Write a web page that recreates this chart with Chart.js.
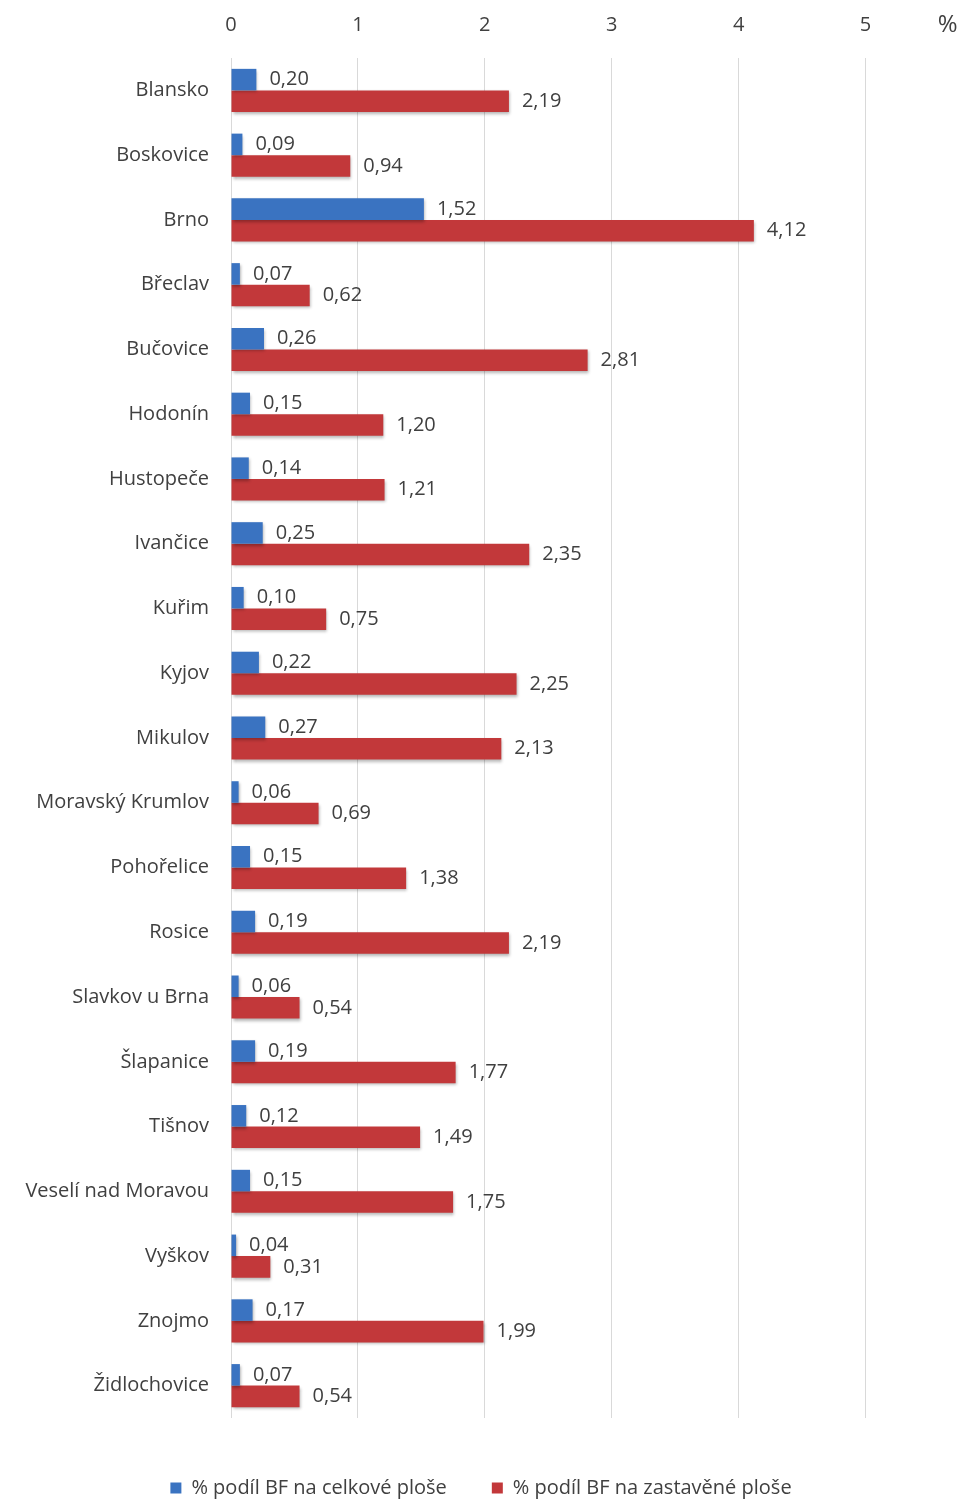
<!DOCTYPE html>
<html lang="cs">
<head>
<meta charset="utf-8">
<title>Podíl BF na ploše obcí</title>
<script src="https://cdn.jsdelivr.net/npm/chart.js@4/dist/chart.umd.min.js"></script>
<style>
  html, body { margin: 0; padding: 0; background: #ffffff; }
  #wrap { width: 962px; height: 1501px; }
</style>
</head>
<body>
<div id="wrap"><canvas id="chart" width="962" height="1501"></canvas></div>
<script>
// Obce s rozšířenou působností
const categories = [
  'Blansko', 'Boskovice', 'Brno', 'Břeclav', 'Bučovice', 'Hodonín', 'Hustopeče',
  'Ivančice', 'Kuřim', 'Kyjov', 'Mikulov', 'Moravský Krumlov', 'Pohořelice',
  'Rosice', 'Slavkov u Brna', 'Šlapanice', 'Tišnov', 'Veselí nad Moravou',
  'Vyškov', 'Znojmo', 'Židlochovice'
];

// % podíl BF na celkové ploše
const shareTotal = [
  0.20, 0.09, 1.52, 0.07, 0.26, 0.15, 0.14, 0.25, 0.10, 0.22, 0.27,
  0.06, 0.15, 0.19, 0.06, 0.19, 0.12, 0.15, 0.04, 0.17, 0.07
];

// % podíl BF na zastavěné ploše
const shareBuilt = [
  2.19, 0.94, 4.12, 0.62, 2.81, 1.20, 1.21, 2.35, 0.75, 2.25, 2.13,
  0.69, 1.38, 2.19, 0.54, 1.77, 1.49, 1.75, 0.31, 1.99, 0.54
];

const seriesNames = ['% podíl BF na celkové ploše', '% podíl BF na zastavěné ploše'];
const axisTicks = [0, 1, 2, 3, 4, 5];
const axisUnit = '%';
// visible range of the value axis; the space past the last tick holds the unit
const axisRange = [0, 5.76];

const FONT = '"Open Sans", "Noto Sans", sans-serif';
const TEXT = '#404040';

const fmt = v => v.toFixed(2).replace('.', ',');

// soft drop shadow under the bars
const barShadow = {
  id: 'barShadow',
  beforeDatasetDraw(chart) {
    const c = chart.ctx;
    c.save();
    c.shadowColor = 'rgba(0,0,0,0.30)';
    c.shadowBlur = 3;
    c.shadowOffsetX = 1;
    c.shadowOffsetY = 2;
  },
  afterDatasetDraw(chart) {
    chart.ctx.restore();
  }
};

// value labels at the end of each bar
const valueLabels = {
  id: 'valueLabels',
  afterDatasetsDraw(chart) {
    const c = chart.ctx;
    c.save();
    c.font = '20px ' + FONT;
    c.fillStyle = TEXT;
    c.textAlign = 'left';
    c.textBaseline = 'middle';
    chart.data.datasets.forEach((ds, i) => {
      const meta = chart.getDatasetMeta(i);
      meta.data.forEach((bar, j) => {
        c.fillText(fmt(ds.data[j]), bar.x + 13, bar.y);
      });
    });
    c.restore();
  }
};

// unit text next to the top axis
const unitLabel = {
  id: 'unitLabel',
  afterDraw(chart) {
    const x = chart.scales.x;
    const c = chart.ctx;
    c.save();
    c.font = '24px ' + FONT;
    c.fillStyle = TEXT;
    c.textAlign = 'center';
    c.textBaseline = 'middle';
    c.fillText(axisUnit, x.getPixelForValue(axisTicks[axisTicks.length - 1]) + 82, 25);
    c.restore();
  }
};

new Chart(document.getElementById('chart'), {
  type: 'bar',
  data: {
    labels: categories,
    datasets: [
      {
        label: seriesNames[0],
        data: shareTotal,
        backgroundColor: '#3a73c1',
        borderWidth: 0,
        categoryPercentage: 0.665,
        barPercentage: 1.0
      },
      {
        label: seriesNames[1],
        data: shareBuilt,
        backgroundColor: '#c2383a',
        borderWidth: 0,
        categoryPercentage: 0.665,
        barPercentage: 1.0
      }
    ]
  },
  options: {
    indexAxis: 'y',
    responsive: false,
    animation: false,
    layout: { padding: { left: 0, right: 0, top: 0, bottom: -7 } },
    scales: {
      x: {
        position: 'top',
        min: axisRange[0],
        max: axisRange[1],
        afterBuildTicks(scale) {
          scale.ticks = axisTicks.map(v => ({ value: v }));
        },
        afterFit(scale) { scale.height = 58; },
        ticks: {
          padding: 21,
          color: TEXT,
          font: { family: FONT, size: 20 },
          callback: v => String(v)
        },
        grid: { color: '#d9d9d9', lineWidth: 1, drawTicks: false },
        border: { display: false }
      },
      y: {
        afterFit(scale) { scale.width = 231; },
        ticks: {
          padding: 22,
          color: TEXT,
          font: { family: FONT, size: 20 }
        },
        grid: { display: false, drawTicks: false },
        border: { display: false }
      }
    },
    plugins: {
      legend: {
        position: 'bottom',
        align: 'center',
        title: { display: true, text: '', font: { size: 10 }, padding: { top: 3, bottom: 0 } },
        labels: {
          boxWidth: 11,
          boxHeight: 11,
          padding: 45,
          color: TEXT,
          font: { family: FONT, size: 20 }
        }
      },
      tooltip: { enabled: false }
    }
  },
  plugins: [barShadow, valueLabels, unitLabel]
});
</script>
</body>
</html>
